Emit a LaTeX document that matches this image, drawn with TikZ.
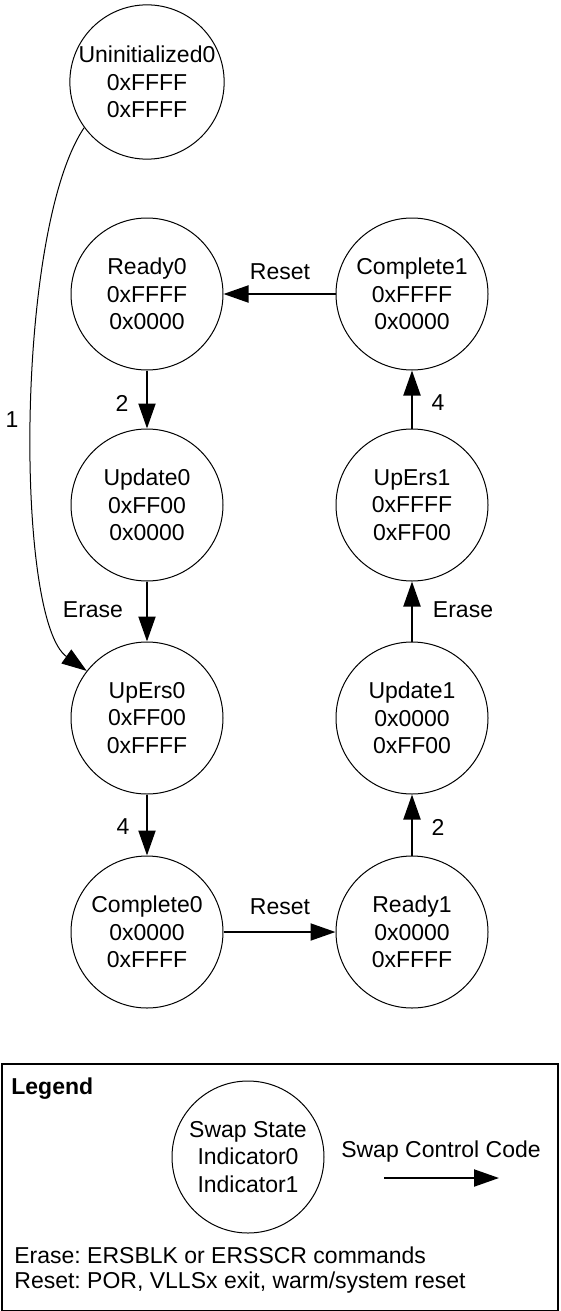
\documentclass[tikz,border=0pt]{standalone}
\usepackage{fontspec}
\setmainfont{Liberation Sans}
\usetikzlibrary{arrows.meta}
\frenchspacing
\begin{document}
\begin{tikzpicture}[x=0.5pt,y=-0.5pt,
  state/.style={draw,circle,line width=0.5pt,minimum size=76pt,inner sep=0pt,
    align=center,font=\fontsize{11.5}{13.75}\selectfont},
  lbl/.style={font=\fontsize{11.5}{13.75}\selectfont,inner sep=0pt},
  trans/.style={line width=1pt,-{Triangle[length=12.5pt,width=8.5pt]}},
  curvearrow/.style={line width=0.5pt,-{Triangle[length=12.5pt,width=8.5pt]}}]
\useasboundingbox (0,0) rectangle (561,1311);
% states
\node[state] (U)   at (147,82)  {Uninitialized0\\0xFFFF\\0xFFFF};
\node[state] (R0)  at (147,294) {Ready0\\0xFFFF\\0x0000};
\node[state] (Up0) at (147,505) {Update0\\0xFF00\\0x0000};
\node[state] (UE0) at (147,718) {UpErs0\\0xFF00\\0xFFFF};
\node[state] (C0)  at (147,932) {Complete0\\0x0000\\0xFFFF};
\node[state] (C1)  at (412,294) {Complete1\\0xFFFF\\0x0000};
\node[state] (UE1) at (412,505) {UpErs1\\0xFFFF\\0xFF00};
\node[state] (Up1) at (412,718) {Update1\\0x0000\\0xFF00};
\node[state] (R1)  at (412,932) {Ready1\\0x0000\\0xFFFF};
% transitions
\draw[trans] (C1) -- (R0);
\draw[trans] (R0) -- (Up0);
\draw[trans] (Up0) -- (UE0);
\draw[trans] (UE0) -- (C0);
\draw[trans] (C0) -- (R1);
\draw[trans] (R1) -- (Up1);
\draw[trans] (Up1) -- (UE1);
\draw[trans] (UE1) -- (C1);
\draw[curvearrow] (U.216) .. controls (15,230) and (15,620) .. (UE0.142);
% labels
\node[lbl] (lReset1) at (280,272) {Reset};
\node[lbl] (l2a) at (122,403) {2};
\node[lbl] (lErase0) at (93,610) {Erase};
\node[lbl] (l4a) at (123,827) {4};
\node[lbl] (lReset2) at (280,907) {Reset};
\node[lbl] (l2b) at (438,827) {2};
\node[lbl] (lErase1) at (463,610) {Erase};
\node[lbl] (l4b) at (438,403) {4};
\node[lbl] (l1) at (12,420) {1};
% legend
\node[draw,line width=0.8pt,minimum width=278pt,minimum height=123.5pt,inner sep=0pt,anchor=north west] (leg) at (1,1063) {};
\node[lbl,anchor=west,font=\fontsize{11.5}{13.75}\selectfont\bfseries] (legt) at (11,1089) {Legend};
\node[state] (LS) at (248,1157) {Swap State\\Indicator0\\Indicator1};
\node[lbl] (lcode) at (441,1152) {Swap Control Code};
\coordinate (la) at (384,1178);
\coordinate (lb) at (499,1178);
\draw[trans] (la) -- (lb);
\node[lbl,anchor=west] (le) at (14,1255) {Erase: ERSBLK or ERSSCR commands};
\node[lbl,anchor=west] (lr) at (14,1283) {Reset: POR, VLLSx exit, warm/system reset};
\end{tikzpicture}
\end{document}
